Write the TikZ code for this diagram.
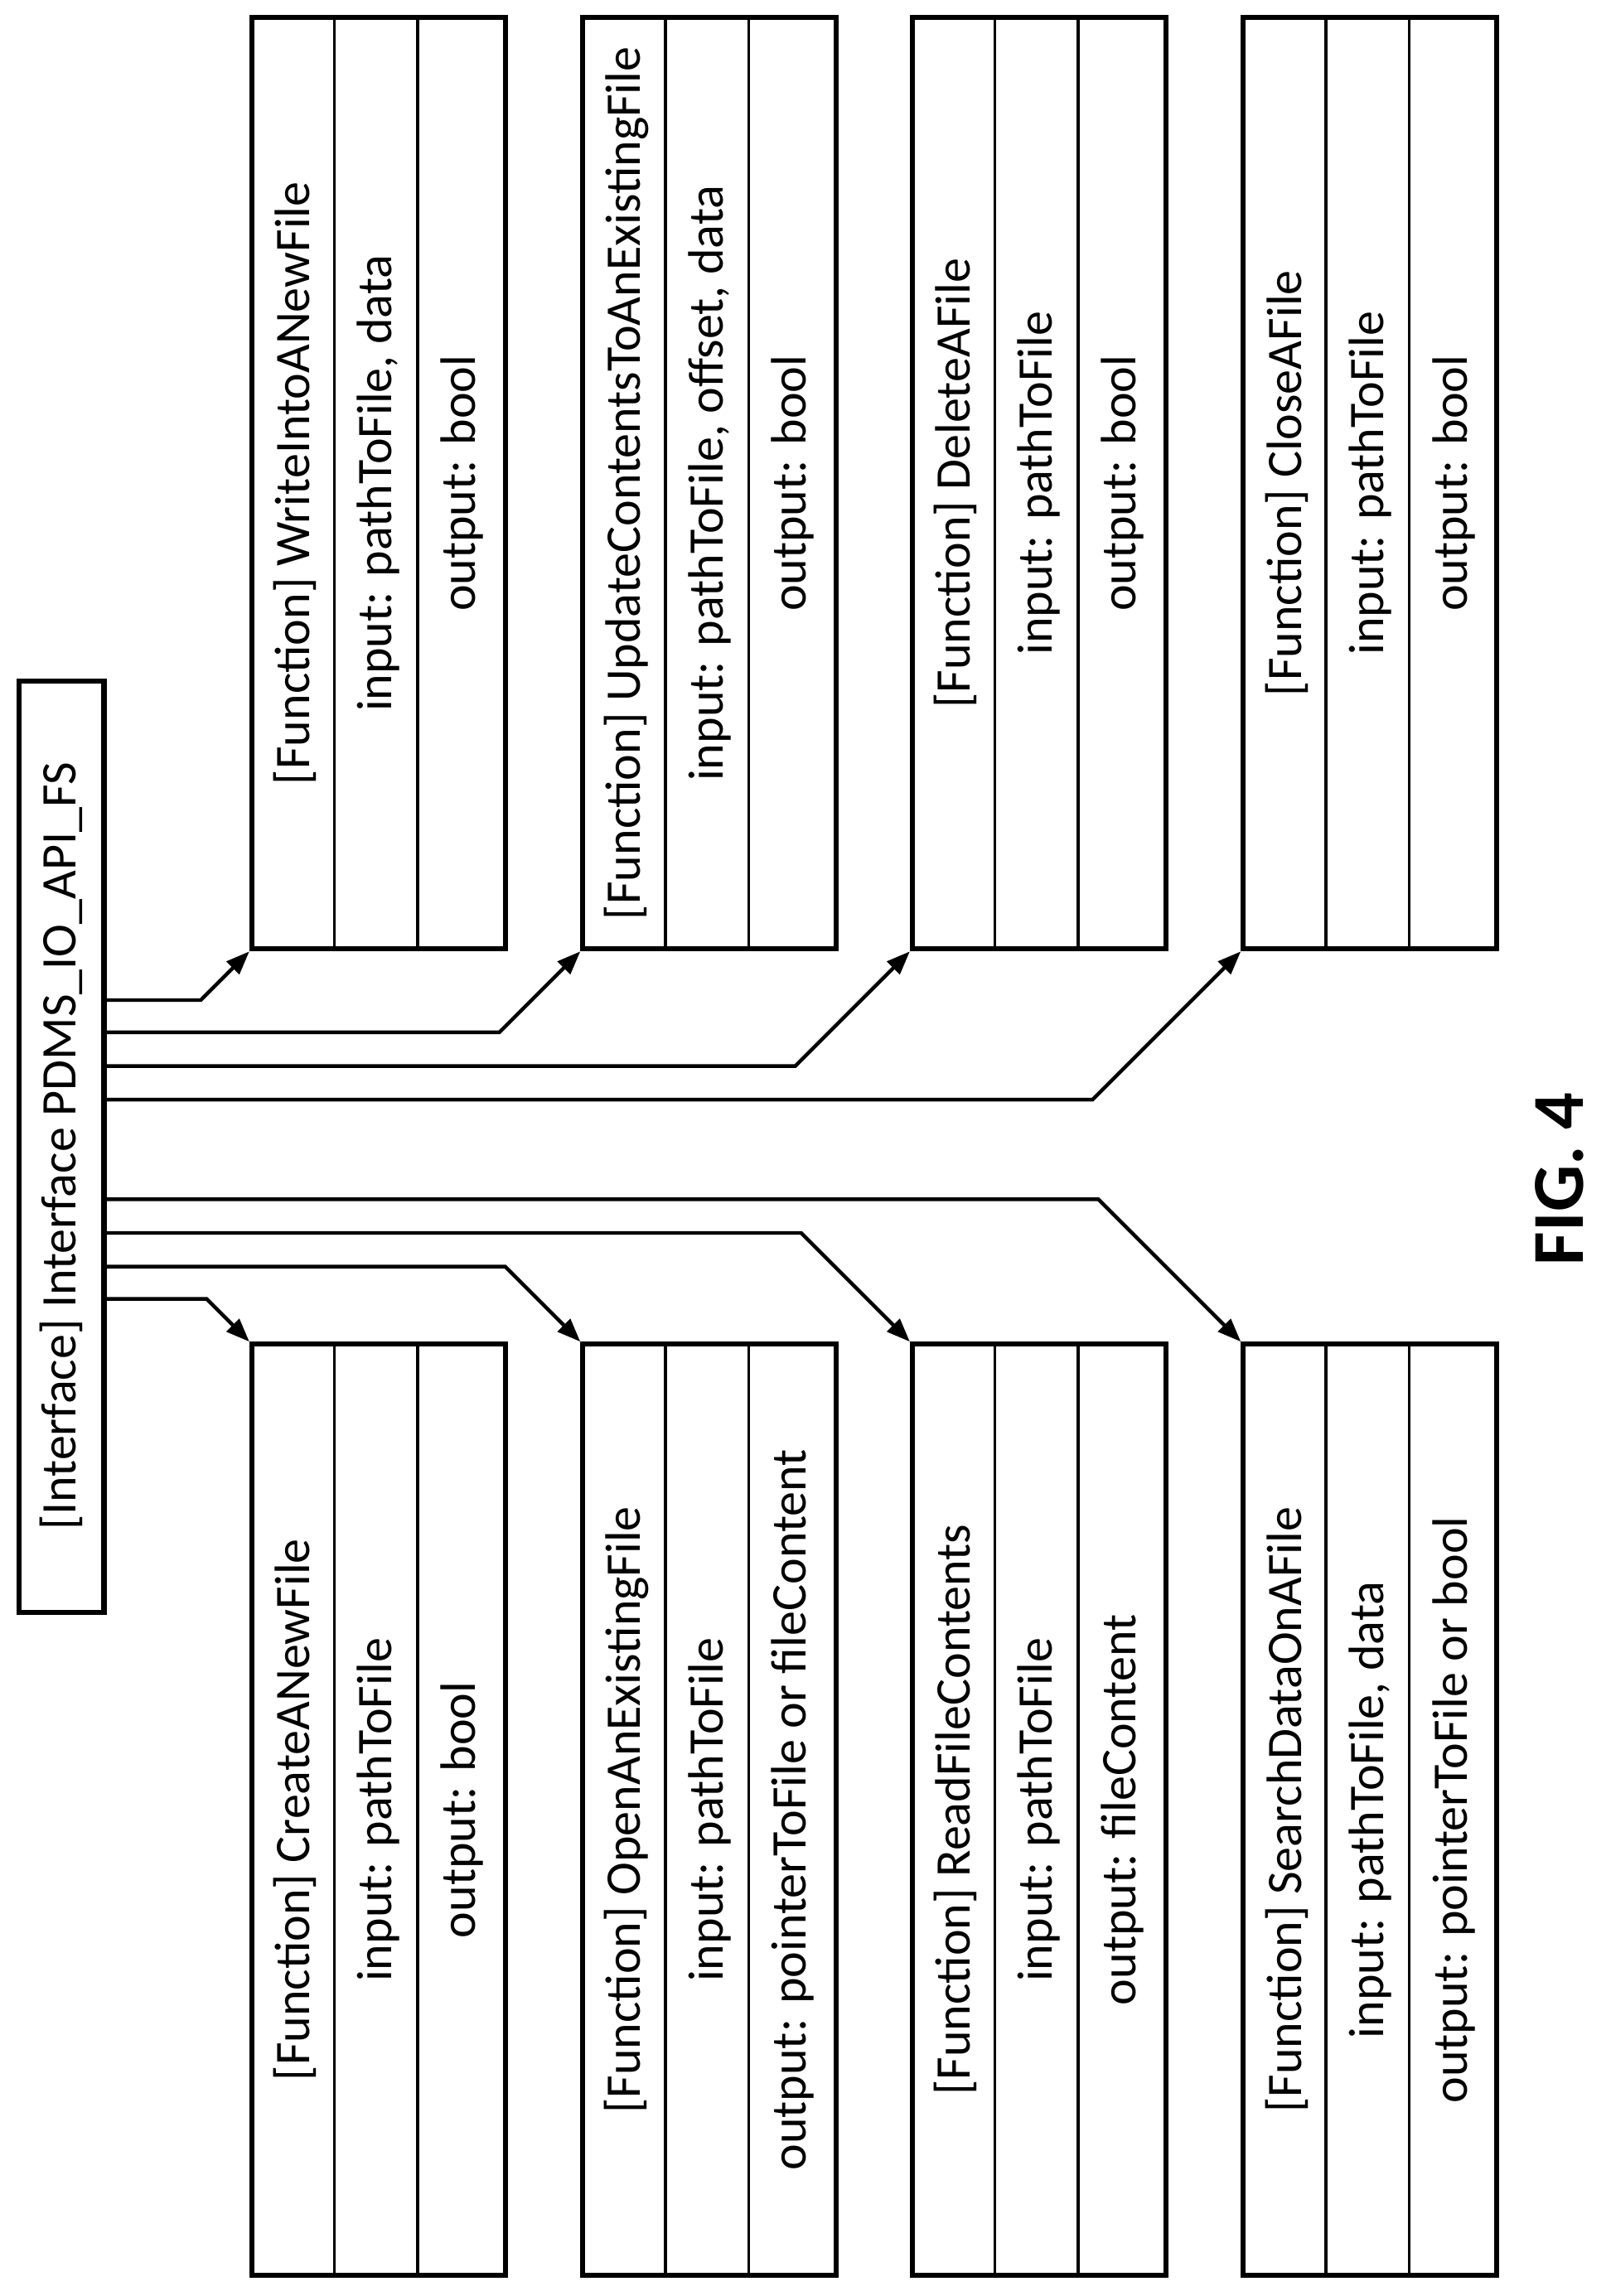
\documentclass[tikz,border=0pt]{standalone}
\usepackage{fontspec}
\setmainfont{Carlito}
\usetikzlibrary{arrows.meta}
\begin{document}
\begin{tikzpicture}[x=1pt,y=-1pt,
  fbox/.style={draw,line width=3.5pt,minimum width=173pt,minimum height=636pt,inner sep=0pt},
  sep/.style={line width=2pt},
  conn/.style={line width=2.5pt,-{Triangle[length=16pt,width=12pt]}},
  txt/.style={rotate=90,font=\fontsize{34}{38}\selectfont,inner sep=0pt}]
\useasboundingbox (0,0) rectangle (1100,1568);
\node[draw,line width=3.5pt,minimum width=58pt,minimum height=636pt,inner sep=0pt] (iface) at (42,783) {};
\node[txt] (ifacetxt) at (iface.center) {[Interface] Interface PDMS\_IO\_API\_FS};
\foreach \n/\x in {b1/258.5,b2/484.5,b3/709.5,b4/935.5}{
  \node[fbox] (\n) at (\x,330) {};
}
\foreach \n/\x in {b5/258.5,b6/484.5,b7/709.5,b8/935.5}{
  \node[fbox] (\n) at (\x,1236) {};
}
\foreach \n in {b1,b2,b3,b4,b5,b6,b7,b8}{
  \draw[sep] ([xshift=58pt]\n.north west) -- ([xshift=58pt]\n.south west);
  \draw[sep] ([xshift=115pt]\n.north west) -- ([xshift=115pt]\n.south west);
}
% texts top
\node[txt] (t1) at ([xshift=-57pt]b1.center) {[Function] WriteIntoANewFile};
\node[txt] (i1) at (b1.center) {input: pathToFile, data};
\node[txt] (o1) at ([xshift=57pt]b1.center) {output: bool};
\node[txt] (t2) at ([xshift=-57pt]b2.center) {[Function] UpdateContentsToAnExistingFile};
\node[txt] (i2) at (b2.center) {input: pathToFile, offset, data};
\node[txt] (o2) at ([xshift=57pt]b2.center) {output: bool};
\node[txt] (t3) at ([xshift=-57pt]b3.center) {[Function] DeleteAFile};
\node[txt] (i3) at (b3.center) {input: pathToFile};
\node[txt] (o3) at ([xshift=57pt]b3.center) {output: bool};
\node[txt] (t4) at ([xshift=-57pt]b4.center) {[Function] CloseAFile};
\node[txt] (i4) at (b4.center) {input: pathToFile};
\node[txt] (o4) at ([xshift=57pt]b4.center) {output: bool};
% texts bottom
\node[txt] (t5) at ([xshift=-57pt]b5.center) {[Function] CreateANewFile};
\node[txt] (i5) at (b5.center) {input: pathToFile};
\node[txt] (o5) at ([xshift=57pt]b5.center) {output: bool};
\node[txt] (t6) at ([xshift=-57pt]b6.center) {[Function] OpenAnExistingFile};
\node[txt] (i6) at (b6.center) {input: pathToFile};
\node[txt] (o6) at ([xshift=57pt]b6.center) {output: pointerToFile or fileContent};
\node[txt] (t7) at ([xshift=-57pt]b7.center) {[Function] ReadFileContents};
\node[txt] (i7) at (b7.center) {input: pathToFile};
\node[txt] (o7) at ([xshift=57pt]b7.center) {output: fileContent};
\node[txt] (t8) at ([xshift=-57pt]b8.center) {[Function] SearchDataOnAFile};
\node[txt] (i8) at (b8.center) {input: pathToFile, data};
\node[txt] (o8) at ([xshift=57pt]b8.center) {output: pointerToFile or bool};
% connectors
\draw[conn] (iface.east |- 0,683) -- (137,683) -- (b1.south west);
\draw[conn] (iface.east |- 0,705) -- (341,705) -- (b2.south west);
\draw[conn] (iface.east |- 0,728) -- (543,728) -- (b3.south west);
\draw[conn] (iface.east |- 0,751) -- (746,751) -- (b4.south west);
\draw[conn] (iface.east |- 0,887) -- (141,887) -- (b5.north west);
\draw[conn] (iface.east |- 0,865) -- (345,865) -- (b6.north west);
\draw[conn] (iface.east |- 0,842) -- (547,842) -- (b7.north west);
\draw[conn] (iface.east |- 0,819) -- (750,819) -- (b8.north west);
\node[rotate=90,font=\fontsize{50}{56}\selectfont\bfseries] (fig) at (1065,805) {FIG. 4};
\end{tikzpicture}
\end{document}
